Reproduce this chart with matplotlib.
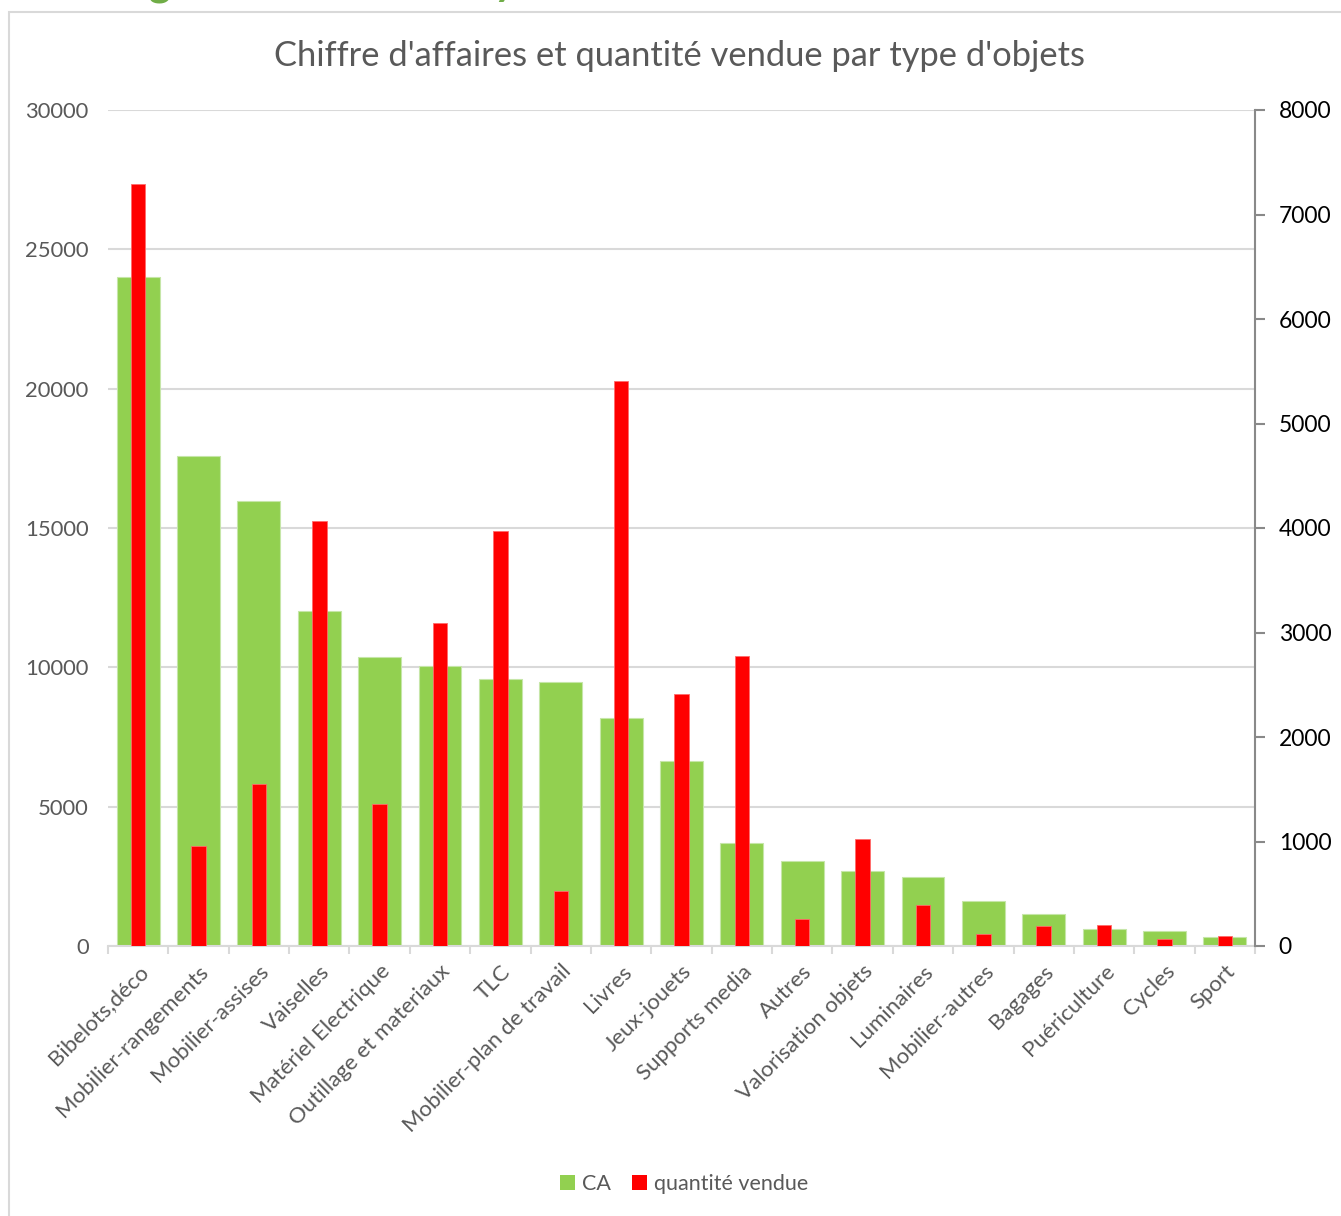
import matplotlib
matplotlib.use("Agg")
import matplotlib.pyplot as plt
from matplotlib.patches import Rectangle, Patch
from matplotlib.ticker import FixedLocator, NullFormatter

categories = ["Bibelots,déco", "Mobilier-rangements", "Mobilier-assises", "Vaiselles",
              "Matériel Electrique", "Outillage et materiaux", "TLC", "Mobilier-plan de travail",
              "Livres", "Jeux-jouets", "Supports media", "Autres", "Valorisation objets",
              "Luminaires", "Mobilier-autres", "Bagages", "Puériculture", "Cycles", "Sport"]
ca = [24020, 17600, 15980, 12020, 10370, 10060, 9580, 9460, 8170, 6650, 3680,
      3060, 2690, 2465, 1605, 1150, 610, 540, 310]
quantite = [7295, 954, 1547, 4064, 1356, 3091, 3971, 526, 5407, 2408, 2772,
            255, 1021, 389, 115, 194, 198, 67, 96]
left_ticks = [0, 5000, 10000, 15000, 20000, 25000, 30000]
right_ticks = [0, 1000, 2000, 3000, 4000, 5000, 6000, 7000, 8000]

plt.rcParams['font.family'] = ['Lato', 'DejaVu Sans']

W, H = 1341, 1216
fig = plt.figure(figsize=(W / 100, H / 100), dpi=100)

# chart border
fig.patches.append(Rectangle((9 / W, -0.05), 1.1, (1216 - 12) / H + 0.05,
                             transform=fig.transFigure, fill=False,
                             edgecolor='#D9D9D9', linewidth=1.5))
# partial heading text from the surrounding document (only descenders visible)
fig.text(160 / W, 1 + 5 / H, "g", color='#70AD47', fontsize=30, fontweight='bold',
         ha='center', va='baseline')
fig.text(505 / W, 1 + 5 / H, "y", color='#70AD47', fontsize=30, fontweight='bold',
         ha='center', va='baseline')

ax = fig.add_axes([108 / W, (H - 946) / H, (1255 - 108) / W, (946 - 110) / H])
ax2 = ax.twinx()

x = list(range(len(categories)))
ax.bar(x, ca, width=0.71, color='#92D050', edgecolor='#C6E6A8', linewidth=0.8,
       zorder=2, label='CA')
ax2.bar(x, quantite, width=0.24, color='#FF0000', edgecolor='#FF6B6B', linewidth=0.6,
        zorder=3, label='quantité vendue')

ax.set_xlim(-0.5, len(categories) - 0.5)
ax.set_ylim(0, 30000)
ax2.set_ylim(0, 8000)

ax.set_yticks(left_ticks)
ax.set_yticklabels([str(v) for v in left_ticks])
ax.yaxis.grid(True, color='#D9D9D9', linewidth=1.5, zorder=0)
ax.set_axisbelow(True)
ax.tick_params(axis='y', length=0, pad=14, labelsize=15.8, labelcolor='#595959')

ax2.set_yticks(right_ticks)
ax2.set_yticklabels([str(v) for v in right_ticks])
ax2.tick_params(axis='y', length=7, width=1.5, color='#898989', pad=10,
                labelsize=16.5, labelcolor='#000000')

ax.set_xticks(x)
ax.set_xticklabels(categories, rotation=45, ha='right', rotation_mode='anchor')
ax.tick_params(axis='x', which='major', length=0, pad=11, labelsize=16,
               labelcolor='#595959')
ax.xaxis.set_minor_locator(FixedLocator([i - 0.5 for i in range(len(categories) + 1)]))
ax.xaxis.set_minor_formatter(NullFormatter())
ax.tick_params(axis='x', which='minor', length=6, width=1.5, color='#D9D9D9')

for a in (ax, ax2):
    for s in ('top', 'left', 'right', 'bottom'):
        a.spines[s].set_visible(False)
ax2.spines['right'].set_visible(True)
ax2.spines['right'].set_color('#898989')
ax2.spines['right'].set_linewidth(1.5)
ax.spines['bottom'].set_visible(True)
ax.spines['bottom'].set_color('#D9D9D9')
ax.spines['bottom'].set_linewidth(1.5)

fig.text(680 / W, 1 - 56 / H, "Chiffre d'affaires et quantité vendue par type d'objets",
         ha='center', va='center', fontsize=24.8, color='#595959')

handles = [Patch(facecolor='#92D050', edgecolor='none', label='CA'),
           Patch(facecolor='#FF0000', edgecolor='none', label='quantité vendue')]
fig.legend(handles=handles, loc='center', bbox_to_anchor=(684 / W, 1 - 1184 / H),
           ncol=2, frameon=False, fontsize=15.5, labelcolor='#595959',
           handlelength=0.7, handleheight=0.7, handletextpad=0.3, columnspacing=1.0)

fig.savefig("out.png", dpi=100)
